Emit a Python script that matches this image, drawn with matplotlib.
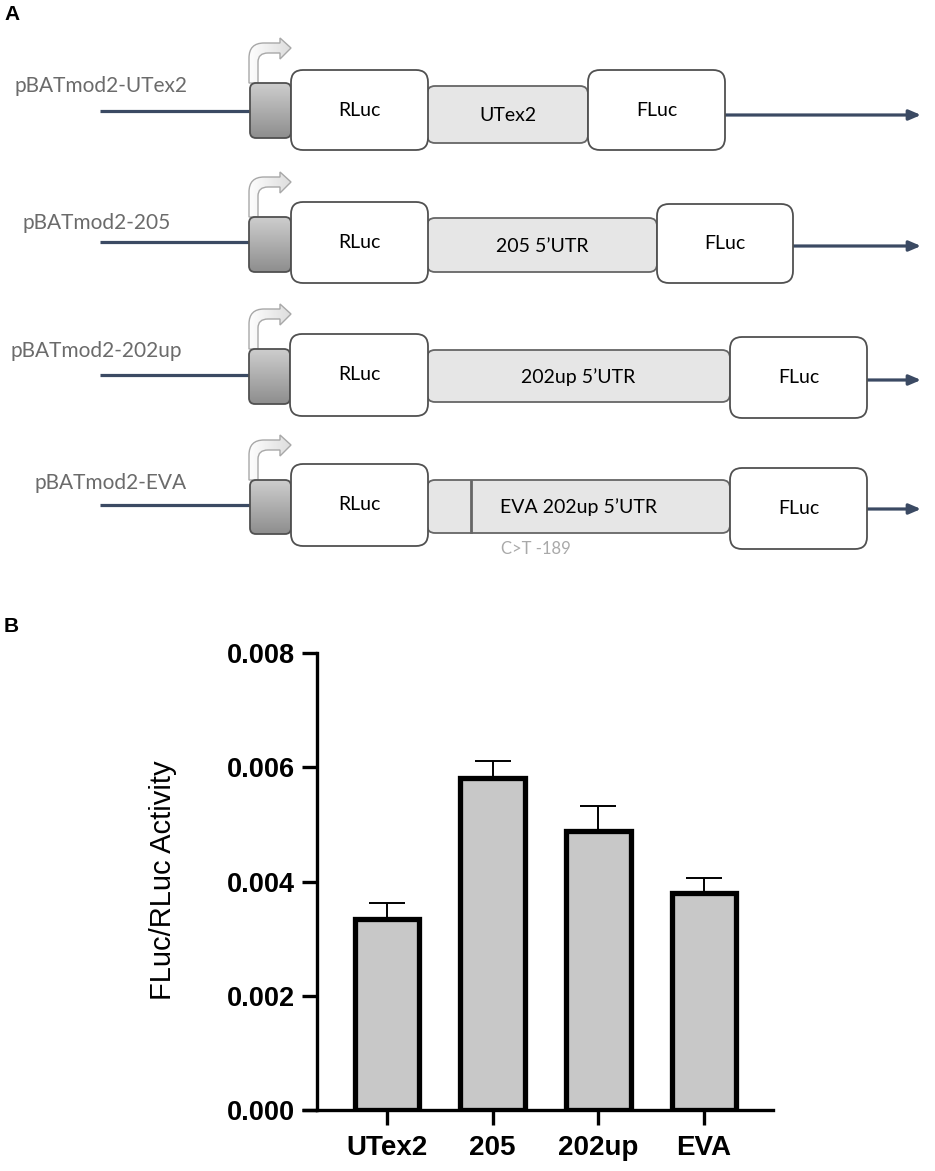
import numpy as np
import matplotlib
matplotlib.use("Agg")
import matplotlib.pyplot as plt
from matplotlib.patches import FancyBboxPatch, PathPatch
from matplotlib.path import Path
from matplotlib.colors import LinearSegmentedColormap

# ---------------- data ----------------
categories = ['UTex2', '205', '202up', 'EVA']
means = [0.00334, 0.00581, 0.00489, 0.00379]
sems = [0.00028, 0.00030, 0.00044, 0.00027]
yticks = [0.000, 0.002, 0.004, 0.006, 0.008]
ytick_labels = ['0.000', '0.002', '0.004', '0.006', '0.008']
ylabel = 'FLuc/RLuc Activity'

constructs = ['pBATmod2-UTex2', 'pBATmod2-205', 'pBATmod2-202up', 'pBATmod2-EVA']
utr_labels = ['UTex2', '205 5\u2019UTR', '202up 5\u2019UTR', 'EVA 202up 5\u2019UTR']
mutation_label = 'C>T -189'

W, H = 935, 1171
fig = plt.figure(figsize=(W / 100, H / 100), dpi=100)

# ---------------- panel A: construct diagram (pixel coordinates) ----------------
TOPH = 600
ax0 = fig.add_axes([0, 1 - TOPH / H, 1, TOPH / H])
ax0.axis('off')

DFONT = 'Lato'
navy = '#3b4a63'

# layout of each row (pixels)
rows = [
    dict(label_x=14, label_y=86, line_l=111, line_r=115, prom=(250, 291, 83, 138),
         rluc=(291, 428, 70, 150), utr=(427, 588, 86, 143), fluc=(588, 725, 70, 150)),
    dict(label_x=22, label_y=223, line_l=242, line_r=246, prom=(249, 291, 217, 272),
         rluc=(291, 428, 202, 283), utr=(427, 657, 218, 272), fluc=(657, 793, 204, 283)),
    dict(label_x=10, label_y=351, line_l=375, line_r=380, prom=(249, 290, 349, 404),
         rluc=(290, 428, 334, 416), utr=(427, 730, 350, 402), fluc=(730, 867, 337, 418)),
    dict(label_x=35, label_y=483, line_l=505, line_r=509, prom=(250, 291, 480, 534),
         rluc=(291, 428, 464, 546), utr=(427, 730, 480, 533), fluc=(730, 867, 468, 549)),
]

grad_cmap = LinearSegmentedColormap.from_list('prom', ['#cdcdcd', '#8e8e8e'])
arrow_cmap = LinearSegmentedColormap.from_list('arr', ['#ffffff', '#dcdcdc'])


def rbox(b, face, edge, r, lw=1.3, z=3):
    x0, x1, y0, y1 = b
    p = FancyBboxPatch((x0, y0), x1 - x0, y1 - y0,
                       boxstyle=f"round,pad=0,rounding_size={r}",
                       facecolor=face, edgecolor=edge, linewidth=lw, zorder=z)
    ax0.add_patch(p)
    return p


for i, r in enumerate(rows):
    px0, px1, py0, py1 = r['prom']
    # left DNA line
    ax0.plot([100, px0], [r['line_l'], r['line_l']], color=navy, lw=2.3,
             solid_capstyle='butt', zorder=1)
    # right arrow
    fx1 = r['fluc'][1]
    ax0.annotate('', xy=(921, r['line_r']), xytext=(fx1, r['line_r']),
                 arrowprops=dict(arrowstyle='-|>,head_length=0.7,head_width=0.3',
                                 color=navy, lw=2.3, shrinkA=0, shrinkB=0), zorder=1)
    # construct label
    ax0.text(r['label_x'], r['label_y'], constructs[i], fontsize=15, family=DFONT,
             color='#6b6b6b', ha='left', va='center')

    # bent promoter arrow (hollow, light gradient)
    pt = py0
    verts = [(249, pt), (249, pt - 25), (249, pt - 40), (264, pt - 40), (280, pt - 40),
             (280, pt - 45), (291, pt - 35), (280, pt - 24), (280, pt - 30), (268, pt - 30),
             (258, pt - 30), (258, pt - 21), (258, pt), (249, pt)]
    codes = [Path.MOVETO, Path.LINETO, Path.CURVE3, Path.CURVE3, Path.LINETO,
             Path.LINETO, Path.LINETO, Path.LINETO, Path.LINETO, Path.LINETO,
             Path.CURVE3, Path.CURVE3, Path.LINETO, Path.CLOSEPOLY]
    ap = PathPatch(Path(verts, codes), facecolor='none', edgecolor='#a8a8a8',
                   lw=1.0, zorder=2.5)
    ax0.add_patch(ap)
    agrad = np.linspace(0, 1, 64).reshape(1, -1)
    aim = ax0.imshow(agrad, extent=(247, 293, pt, pt - 46), cmap=arrow_cmap, aspect='auto',
                     origin='upper', zorder=2, interpolation='bilinear')
    aim.set_clip_path(ap)

    # promoter box with gradient
    pp = rbox(r['prom'], 'none', '#505050', 6, lw=1.3, z=4)
    grad = np.linspace(0, 1, 64).reshape(-1, 1)
    im = ax0.imshow(grad, extent=(px0, px1, py1, py0), cmap=grad_cmap, aspect='auto',
                    origin='upper', zorder=3.5, interpolation='bilinear')
    im.set_clip_path(pp)

    # RLuc
    rbox(r['rluc'], 'white', '#505050', 12, z=5)
    bx = r['rluc']
    ax0.text((bx[0] + bx[1]) / 2, (bx[2] + bx[3]) / 2, 'RLuc', fontsize=14, family=DFONT,
             ha='center', va='center', color='black', zorder=6)
    # UTR
    rbox(r['utr'], '#e6e6e6', '#666666', 8, z=4)
    bx = r['utr']
    ax0.text((bx[0] + bx[1]) / 2, (bx[2] + bx[3]) / 2 + 1, utr_labels[i], fontsize=14,
             family=DFONT, ha='center', va='center', color='black', zorder=6)
    # FLuc
    rbox(r['fluc'], 'white', '#505050', 12, z=5)
    bx = r['fluc']
    ax0.text((bx[0] + bx[1]) / 2, (bx[2] + bx[3]) / 2, 'FLuc', fontsize=14, family=DFONT,
             ha='center', va='center', color='black', zorder=6)

# mutation mark in EVA construct
u = rows[3]['utr']
ax0.plot([471, 471], [u[2] + 1, u[3] - 1], color='#666666', lw=2.0, zorder=6)
ax0.text(536, 549, mutation_label, fontsize=12, family=DFONT, color='#a9a9a9',
         ha='center', va='center')

ax0.set_xlim(0, W)
ax0.set_ylim(TOPH, 0)

# panel letters
fig.text(4 / W, 1 - 15 / H, 'A', fontsize=15, fontweight='bold', family='Liberation Sans',
         ha='left', va='center')
fig.text(4 / W, 1 - 627 / H, 'B', fontsize=15, fontweight='bold', family='Liberation Sans',
         ha='left', va='center')

# ---------------- panel B: bar chart ----------------
left_px, right_px, bottom_px, top_px = 317, 773, 1110, 653
ax = fig.add_axes([left_px / W, 1 - bottom_px / H, (right_px - left_px) / W,
                   (bottom_px - top_px) / H])
x = np.arange(len(categories))
ax.bar(x, means, width=0.61, color='#c8c8c8', edgecolor='black', linewidth=3.8, zorder=2)
ax.errorbar(x, means, yerr=[np.zeros(len(sems)), sems], fmt='none', ecolor='black',
            elinewidth=1.4, capsize=13, capthick=1.4, zorder=3)

ax.set_xlim(-0.662, 3.653)
ax.set_ylim(0, 0.008)
ax.spines['top'].set_visible(False)
ax.spines['right'].set_visible(False)
for s in ('left', 'bottom'):
    ax.spines[s].set_linewidth(2.4)
ax.spines['left'].set_bounds(0, 0.008)
# extension of the x-axis line to the left, like the original
ax.plot([-15 / (right_px - left_px), 0], [0, 0], transform=ax.transAxes, color='black',
        lw=2.4, clip_on=False, solid_capstyle='butt')

ax.set_yticks(yticks)
ax.set_yticklabels(ytick_labels)
ax.set_xticks(x)
ax.set_xticklabels(categories)
ax.tick_params(axis='y', length=10.8, width=2.4, pad=5, labelsize=19.5)
ax.tick_params(axis='x', length=10.8, width=2.4, pad=7, labelsize=20)
for lab in ax.get_xticklabels() + ax.get_yticklabels():
    lab.set_fontweight('bold')
    lab.set_family('Liberation Sans')

ax.set_ylabel(ylabel, fontsize=21, family='Liberation Sans')
ax.yaxis.set_label_coords((177 - left_px) / (right_px - left_px), 0.503)

fig.savefig('out.png', dpi=100)
